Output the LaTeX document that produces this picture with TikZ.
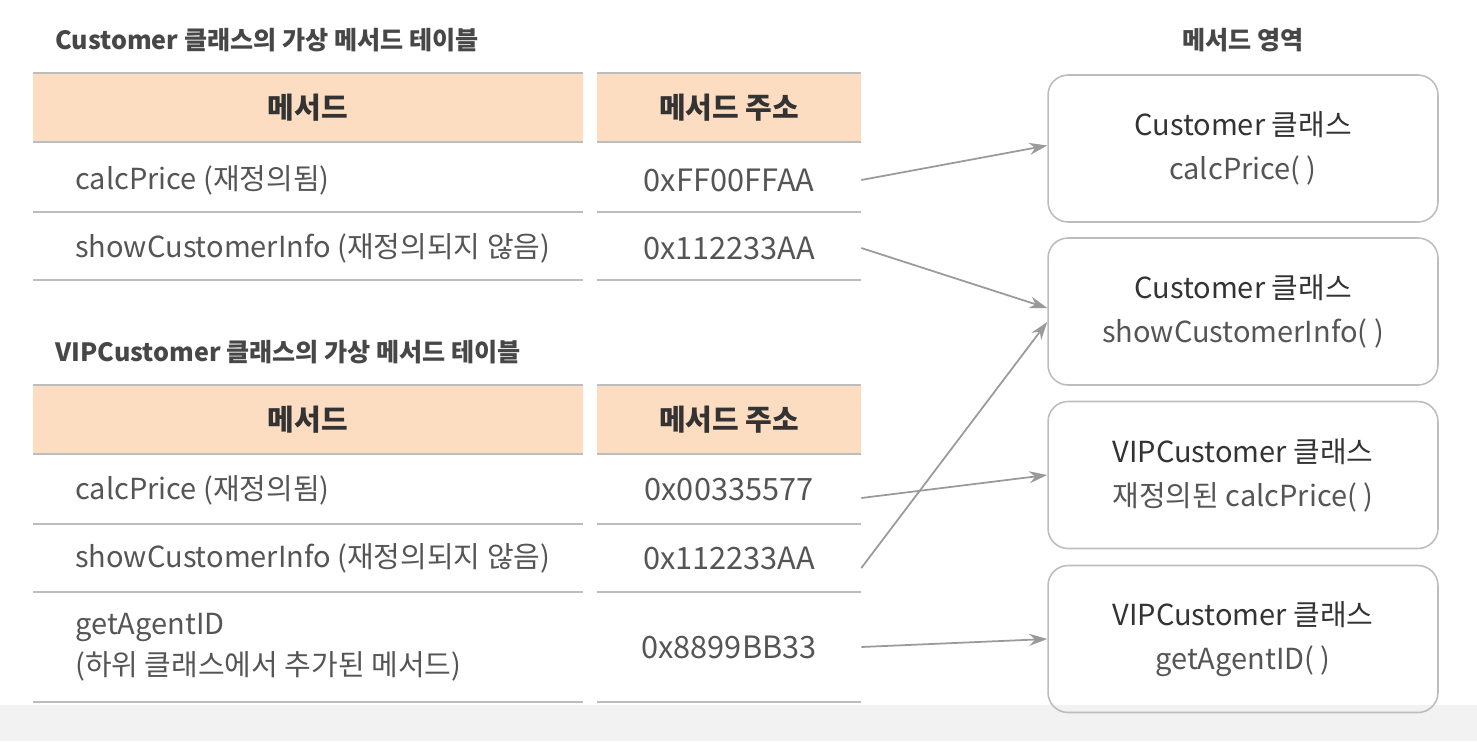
\documentclass[tikz,border=0pt]{standalone}
\usepackage{fontspec}
\setmainfont{Noto Sans CJK KR}
\usetikzlibrary{arrows.meta}
\definecolor{peach}{HTML}{FDDDC2}
\definecolor{rulegray}{HTML}{BDBDBD}
\definecolor{ink}{HTML}{333333}
\definecolor{soft}{HTML}{555555}
\definecolor{wire}{HTML}{9A9A9A}
\tikzset{
  title/.style={anchor=west, inner sep=0pt, text=ink!90, font=\fontsize{14.3}{16}\selectfont\bfseries},
  head/.style={fill=peach, minimum height=1.38cm, inner sep=0pt, text=ink, font=\fontsize{16.5}{18}\selectfont\bfseries},
  methhead/.style={head, minimum width=11cm},
  addrhead/.style={head, minimum width=5.28cm},
  meth/.style={anchor=west, inner sep=0pt, align=left, text=soft, font=\fontsize{16.5}{23}\selectfont},
  addr/.style={minimum width=5.28cm, inner sep=0pt, text=soft, font=\fontsize{17.5}{19}\selectfont},
  area/.style={draw=rulegray, line width=0.9pt, rounded corners=0.4cm, minimum width=7.8cm,
    minimum height=2.94cm, align=center, text=soft, font=\fontsize{16.5}{25}\selectfont},
  tablerule/.style={draw=rulegray, line width=1pt},
  link/.style={draw=wire, line width=1pt, -{Stealth[length=0.36cm, width=0.24cm]}},
}

\begin{document}
\begin{tikzpicture}[x=0.02cm, y=-0.02cm]
  \useasboundingbox (0,0) rectangle (1477,741);
  \fill[black!5] (0,705) rectangle (1477,741);

  % titles
  \node[title] (t1) at (55,40) {Customer 클래스의 가상 메서드 테이블};
  \node[title] (t2) at (55,352) {VIPCustomer 클래스의 가상 메서드 테이블};
  \node[title, anchor=center] (t3) at (1243,40) {메서드 영역};

  % first table
  \node[methhead] (h1m) at (308,107.5) {메서드};
  \node[addrhead] (h1a) at (729,107.5) {메서드 주소};
  \foreach \y in {73,142,212,280} {
    \draw[tablerule] (33,\y) -- (583,\y);
    \draw[tablerule] (597,\y) -- (861,\y);
  }
  \node[meth] (c1m1) at (75,180) {calcPrice (재정의됨)};
  \node[addr] (c1a1) at (729,180) {0xFF00FFAA};
  \node[meth] (c1m2) at (75,248) {showCustomerInfo (재정의되지 않음)};
  \node[addr] (c1a2) at (729,248) {0x112233AA};

  % second table
  \node[methhead] (h2m) at (308,419.5) {메서드};
  \node[addrhead] (h2a) at (729,419.5) {메서드 주소};
  \foreach \y in {385,454,524,592,702} {
    \draw[tablerule] (33,\y) -- (583,\y);
    \draw[tablerule] (597,\y) -- (861,\y);
  }
  \node[meth] (c2m1) at (75,490) {calcPrice (재정의됨)};
  \node[addr] (c2a1) at (729,490) {0x00335577};
  \node[meth] (c2m2) at (75,558) {showCustomerInfo (재정의되지 않음)};
  \node[addr] (c2a2) at (729,558) {0x112233AA};
  \node[meth] (c2m3) at (75,647) {getAgentID\\(하위 클래스에서 추가된 메서드)};
  \node[addr] (c2a3) at (729,647) {0x8899BB33};

  % method area
  \node[area] (b1) at (1243,148.5) {\textcolor{ink}{Customer 클래스}\\calcPrice( )};
  \node[area] (b2) at (1243,311.5) {\textcolor{ink}{Customer 클래스}\\showCustomerInfo( )};
  \node[area] (b3) at (1243,475) {\textcolor{ink}{VIPCustomer 클래스}\\재정의된 calcPrice( )};
  \node[area] (b4) at (1243,639) {\textcolor{ink}{VIPCustomer 클래스}\\getAgentID( )};

  \draw[link] (c1a1.east) -- ([yshift=0.06cm]b1.west);
  \draw[link] (c1a2.east) -- ([yshift=0.07cm]b2.west);
  \draw[link] ([yshift=-0.2cm]c2a2.east) -- ([yshift=-0.21cm]b2.west);
  \draw[link] ([yshift=-0.16cm]c2a1.east) -- (b3.west);
  \draw[link] (c2a3.east) -- (b4.west);
\end{tikzpicture}
\end{document}
